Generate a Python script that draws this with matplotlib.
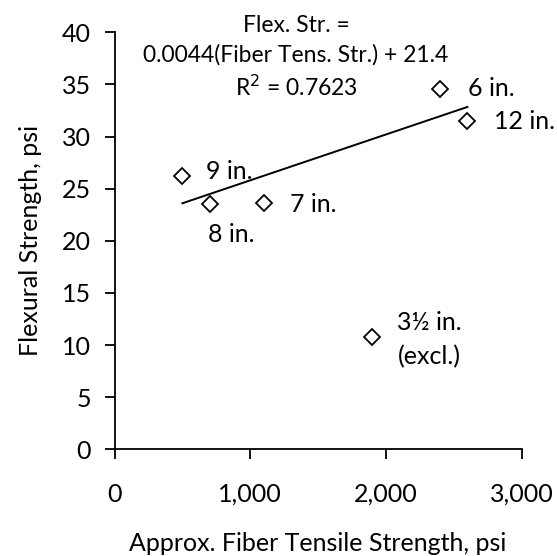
import matplotlib
matplotlib.use("Agg")
import matplotlib.pyplot as plt

plt.rcParams["font.family"] = ["Lato", "DejaVu Sans"]

# fiber tensile strength (psi) vs flexural strength (psi)
fiber_str = [500, 700, 1100, 2400, 2600, 1900]
flex_str = [26.2, 23.5, 23.6, 34.6, 31.5, 10.8]
labels = ["9 in.", "8 in.", "7 in.", "6 in.", "12 in.", "3\u00bd in.\n(excl.)"]
# label offsets in pixels from the marker
offsets = [(24, 5), (-2, -30), (26, -1), (28, 0), (27, -1), (25, -3)]

# trendline (3½ in. excluded)
slope, intercept = 0.0044, 21.4
fit_x = [500, 2600]

fig = plt.figure(figsize=(5.57, 5.56), dpi=100)
ax = fig.add_axes([0.2056, 0.1919, 0.731, 0.750])

fit_y = [slope * x + intercept for x in fit_x]
ax.plot(fit_x, fit_y, color="black", lw=1.4)
ax.plot(fiber_str, flex_str, linestyle="none", marker="D", ms=8.5,
        mfc="white", mec="black", mew=1.3)

for x, y, lab, (dx, dy) in zip(fiber_str, flex_str, labels, offsets):
    ax.annotate(lab, (x, y), xytext=(dx, dy), textcoords="offset pixels",
                ha="left", va="center", fontsize=18, linespacing=1.55)

ax.text(1337, 37.6, "Flex. Str. =\n0.0044(Fiber Tens. Str.) + 21.4\nR$^2$ = 0.7623",
        ha="center", va="center", fontsize=16.5, linespacing=1.45, clip_on=False)

ax.set_xlim(0, 3000)
ax.set_ylim(0, 40)
ax.set_xticks([0, 1000, 2000, 3000])
ax.set_xticklabels(["0", "1,000", "2,000", "3,000"])
ax.set_yticks(range(0, 45, 5))
for s in ["top", "right"]:
    ax.spines[s].set_visible(False)
for s in ["left", "bottom"]:
    ax.spines[s].set_linewidth(1.3)
ax.tick_params(direction="out", length=7, width=1.3, labelsize=18)
ax.tick_params(axis="x", pad=17)
ax.tick_params(axis="y", pad=10)
ax.set_xlabel("Approx. Fiber Tensile Strength, psi", fontsize=18, labelpad=19)
ax.set_ylabel("Flexural Strength, psi", fontsize=18, labelpad=14)

fig.savefig("out.png", dpi=100)
